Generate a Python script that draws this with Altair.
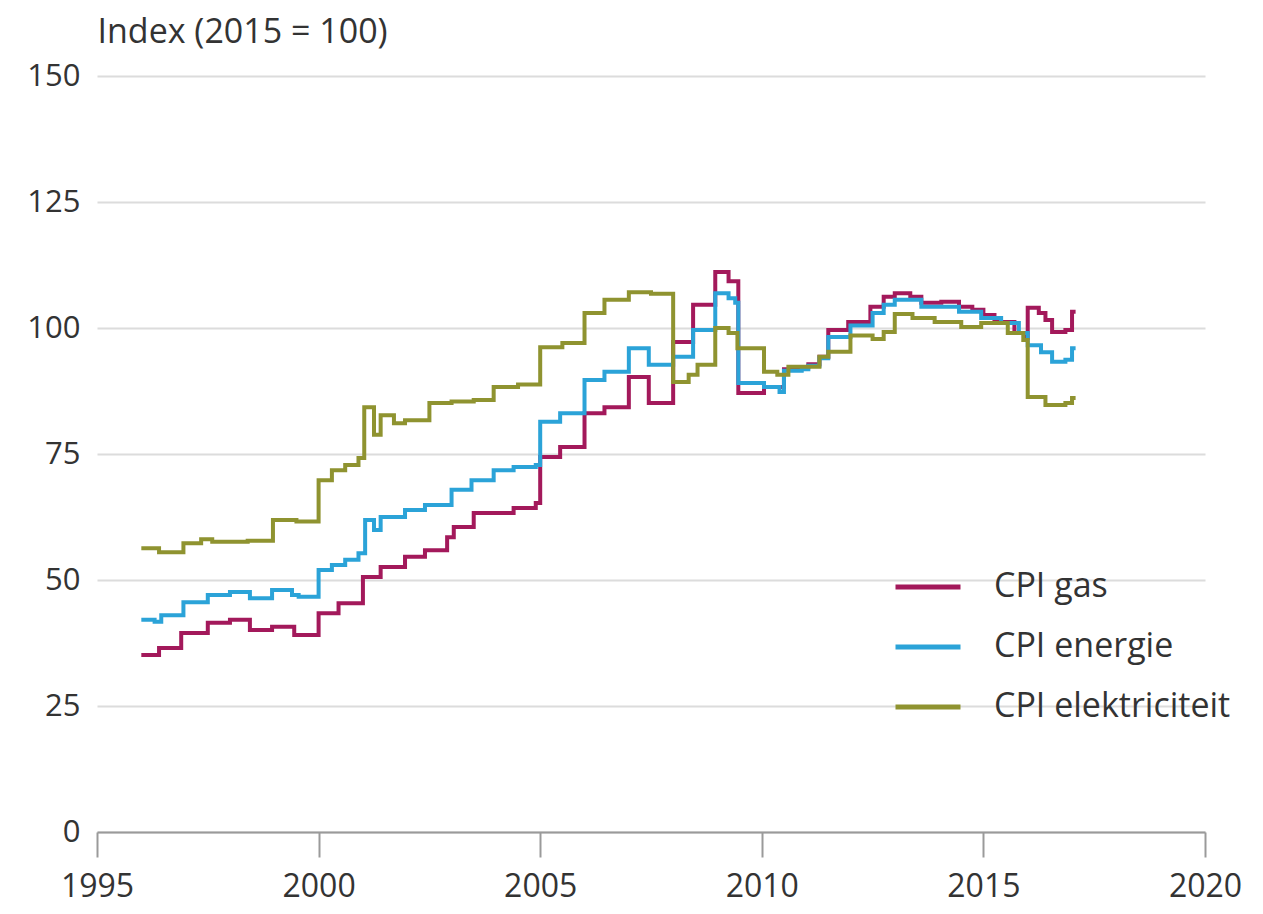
import altair as alt
import pandas as pd

# ---- data (step changes, index 2015 = 100) ----
gas_years = [1996.0, 1996.4, 1996.9, 1997.5, 1998.0, 1998.45, 1998.95, 1999.45,
             2000.0, 2000.45, 2001.0, 2001.4, 2001.95, 2002.4, 2002.9, 2003.05,
             2003.5, 2004.4, 2004.9, 2005.0, 2005.45, 2006.0, 2006.45, 2007.0,
             2007.45, 2008.0, 2008.45, 2008.95, 2009.25, 2009.47, 2010.05, 2010.5,
             2010.9, 2011.05, 2011.3, 2011.5, 2011.95, 2012.45, 2012.75, 2013.0,
             2013.35, 2013.6, 2014.05, 2014.45, 2014.75, 2015.0, 2015.25, 2015.7,
             2015.95, 2016.0, 2016.25, 2016.4, 2016.55, 2016.85, 2017.0, 2017.08]
gas_values = [35.1, 36.5, 39.5, 41.5, 42.1, 40.1, 40.7, 39.1,
              43.4, 45.4, 50.6, 52.6, 54.6, 55.9, 58.5, 60.5,
              63.3, 64.3, 65.3, 74.4, 76.4, 83.1, 84.3, 90.3,
              85.1, 97.2, 104.6, 111.1, 109.3, 87.1, 88.3, 91.8,
              92.2, 92.8, 94.3, 99.6, 101.2, 104.2, 106.2, 106.9,
              106.2, 105.0, 105.2, 104.2, 103.6, 102.6, 101.2, 99.0,
              98.0, 104.0, 103.0, 101.6, 99.2, 99.6, 103.2, 103.2]

energy_years = [1996.0, 1996.3, 1996.45, 1996.95, 1997.5, 1998.0, 1998.45, 1998.95,
                1999.4, 1999.55, 2000.0, 2000.3, 2000.6, 2000.9, 2001.05, 2001.25,
                2001.4, 2001.95, 2002.4, 2003.0, 2003.45, 2003.95, 2004.4, 2004.9,
                2005.0, 2005.45, 2006.0, 2006.45, 2007.0, 2007.45, 2008.0, 2008.45,
                2008.95, 2009.25, 2009.4, 2009.47, 2010.05, 2010.4, 2010.5, 2010.9,
                2011.05, 2011.3, 2011.5, 2012.0, 2012.5, 2012.75, 2013.0, 2013.6,
                2014.45, 2014.95, 2015.4, 2015.8, 2016.0, 2016.3, 2016.55, 2016.85,
                2017.0, 2017.08]
energy_values = [42.1, 41.7, 43.0, 45.6, 47.0, 47.6, 46.4, 48.0,
                 47.0, 46.7, 52.0, 53.0, 54.0, 55.3, 61.9, 59.9,
                 62.5, 63.9, 64.9, 67.9, 69.8, 71.8, 72.4, 72.8,
                 81.4, 83.1, 89.7, 91.3, 96.0, 92.7, 94.3, 99.6,
                 106.9, 105.9, 105.0, 89.1, 88.3, 87.3, 91.5, 91.8,
                 92.5, 94.0, 98.2, 100.5, 103.0, 104.6, 105.6, 104.2,
                 103.2, 102.0, 101.0, 99.0, 96.6, 95.2, 93.3, 93.7,
                 96.0, 96.0]

elec_years = [1996.0, 1996.4, 1996.95, 1997.35, 1997.6, 1998.4, 1998.97, 1999.5,
              2000.0, 2000.3, 2000.6, 2000.9, 2001.03, 2001.25, 2001.4, 2001.7,
              2001.95, 2002.5, 2003.0, 2003.5, 2003.95, 2004.5, 2005.0, 2005.5,
              2006.0, 2006.45, 2007.0, 2007.5, 2008.0, 2008.35, 2008.55, 2008.95,
              2009.25, 2009.45, 2010.05, 2010.35, 2010.6, 2011.3, 2011.5, 2012.0,
              2012.5, 2012.75, 2013.0, 2013.4, 2013.9, 2014.5, 2014.95, 2015.55,
              2015.9, 2016.0, 2016.4, 2016.85, 2017.0, 2017.08]
elec_values = [56.3, 55.5, 57.3, 58.1, 57.6, 57.8, 61.9, 61.6,
               69.8, 71.8, 72.8, 74.2, 84.3, 78.8, 82.7, 81.1,
               81.7, 85.1, 85.4, 85.7, 88.3, 88.8, 96.2, 97.0,
               103.0, 105.6, 107.1, 106.8, 89.3, 90.7, 92.7, 100.0,
               99.0, 96.0, 91.3, 90.7, 92.3, 94.3, 95.3, 98.5,
               97.8, 99.2, 102.8, 102.0, 101.2, 100.2, 101.0, 99.0,
               97.6, 86.3, 84.7, 85.1, 86.1, 86.1]

series_names = ["CPI gas", "CPI energie", "CPI elektriciteit"]
series_colors = ["#a3195b", "#2ba3d8", "#8f9330"]
x_ticks = [1995, 2000, 2005, 2010, 2015, 2020]
y_ticks = [0, 25, 50, 75, 100, 125, 150]

rows = []
for name, ys, vs in [(series_names[0], gas_years, gas_values),
                     (series_names[1], energy_years, energy_values),
                     (series_names[2], elec_years, elec_values)]:
    for i, (yr, v) in enumerate(zip(ys, vs)):
        rows.append({"serie": name, "jaar": yr, "index": v, "volgorde": i})
df = pd.DataFrame(rows)

FONT = "Open Sans"
TEXT = "#333333"

chart = alt.Chart(df).mark_line(interpolate="step-after", strokeWidth=4).encode(
    x=alt.X("jaar:Q",
            scale=alt.Scale(domain=[1995, 2020], nice=False, zero=False),
            axis=alt.Axis(values=x_ticks, format="d", title=None, grid=False,
                          domainColor="#9a9a9a", domainWidth=2,
                          tickColor="#9a9a9a", tickWidth=2, tickSize=25,
                          labelPadding=14, labelFontSize=32, labelColor=TEXT,
                          labelFont=FONT, labelFlush=False)),
    y=alt.Y("index:Q",
            scale=alt.Scale(domain=[0, 150], nice=False),
            axis=alt.Axis(values=y_ticks, title="Index (2015 = 100)",
                          titleAngle=0, titleAlign="left", titleBaseline="alphabetic",
                          titleX=0, titleY=-34, titleFontSize=34, titleFontWeight="normal",
                          titleFont=FONT, titleColor=TEXT,
                          domain=False, ticks=False, tickSize=0, labelPadding=17,
                          labelFontSize=31, labelColor=TEXT, labelFont=FONT,
                          gridColor="#dcdcdc", gridWidth=2)),
    color=alt.Color("serie:N",
                    scale=alt.Scale(domain=series_names, range=series_colors),
                    legend=alt.Legend(title=None, orient="none", legendX=796, legendY=476,
                                      symbolType="stroke", symbolSize=4225,
                                      symbolStrokeWidth=5, labelFontSize=34,
                                      labelFont=FONT, labelColor=TEXT, labelOffset=31,
                                      labelLimit=0, rowPadding=8, padding=0)),
    detail="serie:N",
    order="volgorde:Q",
).properties(
    width=1108, height=756,
    autosize=alt.AutoSizeParams(type="none"),
    padding={"left": 89, "top": 68, "right": 40, "bottom": 80},
).configure_view(stroke=None)

chart.save("out.html", embed_options={"renderer": "svg", "actions": False})
